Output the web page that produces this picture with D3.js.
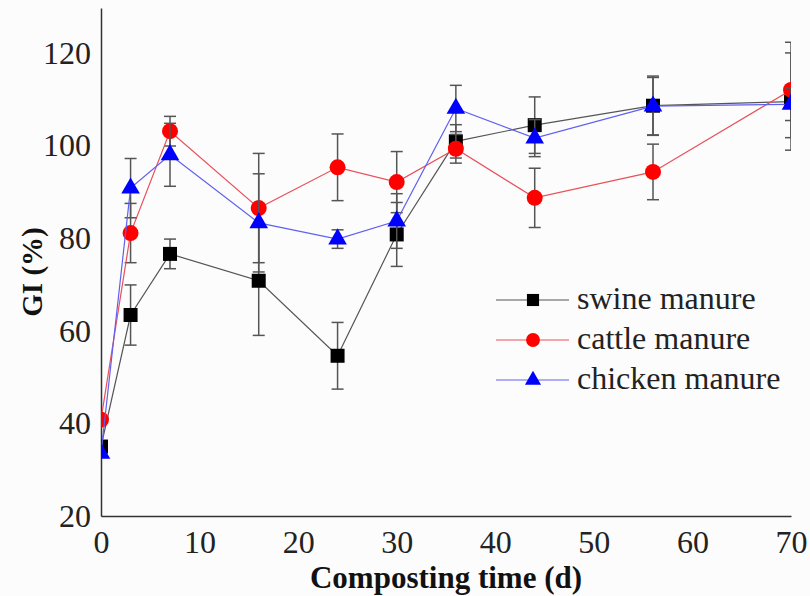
<!DOCTYPE html>
<html>
<head>
<meta charset="utf-8">
<script src="https://cdn.jsdelivr.net/npm/d3@7"></script>
<style>
  body { margin: 0; background: #fcfcfc; }
  #chart-container { width: 810px; height: 596px; }
  text { font-family: "Liberation Serif", "Times New Roman", serif; }
</style>
</head>
<body>
<div id="chart-container"></div>
<script>
// --- Data ---
const days = [0, 3, 7, 16, 24, 30, 36, 44, 56, 70];

const swine = [35.0, 63.4, 76.6, 70.8, 54.6, 80.8, 100.9, 104.4, 108.6, 109.5];
const swineErr = [0, 6.5, 3.2, 11.8, 7.2, 6.9, 3.6, 6.1, 6.4, 10.5];

const cattle = [40.8, 81.1, 103.1, 86.5, 95.3, 92.1, 99.3, 88.7, 94.3, 112.0];
const cattleErr = [0, 6.4, 3.2, 11.8, 7.2, 6.6, 3.1, 6.4, 6.0, 10.3];

const chicken = [33.5, 90.8, 98.0, 83.3, 79.8, 83.7, 108.0, 101.6, 108.5, 108.9];
const chickenErr = [0, 6.4, 6.8, 10.6, 2.0, 5.9, 5.0, 4.0, 6.2, 3.5];

const seriesNames = ["swine manure", "cattle manure", "chicken manure"];
const xTicks = [0, 10, 20, 30, 40, 50, 60, 70];
const yTicks = [20, 40, 60, 80, 100, 120];

// --- Configuration ---
const width = 810;
const height = 596;
const margin = { top: 8, right: 19, bottom: 80, left: 101 };
const serif = "'Liberation Serif', 'Times New Roman', serif";

const series = [
    { name: seriesNames[0], values: swine, err: swineErr, shape: d3.symbolSquare, size: 196, color: "#000", line: "#555" },
    { name: seriesNames[1], values: cattle, err: cattleErr, shape: d3.symbolCircle, size: 201, color: "#ff0000", line: "#e8505a" },
    { name: seriesNames[2], values: chicken, err: chickenErr, shape: d3.symbolTriangle, size: 150, color: "#0000ff", line: "#6060f0" }
];

// --- Scales ---
const xScale = d3.scaleLinear()
    .domain([0, 70])
    .range([margin.left, width - margin.right]);

const yScale = d3.scaleLinear()
    .domain([20, 129.7])
    .range([height - margin.bottom, margin.top]);

// --- Create SVG ---
const svg = d3.select("#chart-container")
    .append("svg")
    .attr("width", width)
    .attr("height", height);

svg.append("defs").append("clipPath")
    .attr("id", "plot-clip")
    .append("rect")
    .attr("x", margin.left)
    .attr("y", 0)
    .attr("width", width - margin.right - margin.left)
    .attr("height", height - margin.bottom);

// --- Axes ---
const xAxis = svg.append("g")
    .attr("transform", `translate(0, ${height - margin.bottom})`)
    .call(d3.axisBottom(xScale).tickValues(xTicks).tickSize(0).tickPadding(14));
xAxis.select(".domain").attr("stroke", "#333").attr("stroke-width", 1.5);
xAxis.selectAll("text")
    .style("font-family", serif)
    .style("font-size", "32px")
    .attr("fill", "#222");

const yAxis = svg.append("g")
    .attr("transform", `translate(${margin.left}, 0)`)
    .call(d3.axisLeft(yScale).tickValues(yTicks).tickSize(0).tickPadding(10));
yAxis.select(".domain").attr("stroke", "#333").attr("stroke-width", 1.5);
yAxis.selectAll("text")
    .style("font-family", serif)
    .style("font-size", "32px")
    .attr("fill", "#222");

// Axis titles
svg.append("text")
    .attr("x", (margin.left + width - margin.right) / 2)
    .attr("y", 588)
    .attr("text-anchor", "middle")
    .style("font-family", serif)
    .style("font-size", "31px")
    .attr("font-weight", "bold")
    .attr("fill", "#111")
    .text("Composting time (d)");

svg.append("text")
    .attr("transform", `translate(42, 272) rotate(-90)`)
    .attr("text-anchor", "middle")
    .style("font-family", serif)
    .style("font-size", "29px")
    .attr("font-weight", "bold")
    .attr("fill", "#111")
    .text("GI (%)");

// --- Plot ---
const plot = svg.append("g").attr("clip-path", "url(#plot-clip)");

const line = d3.line()
    .x((d, i) => xScale(days[i]))
    .y(d => yScale(d));

const capW = 6;

series.forEach(s => {
    const g = plot.append("g");

    // error bars
    const bars = days.map((t, i) => ({ t, v: s.values[i], e: s.err[i] })).filter(d => d.e > 0);
    const eb = g.selectAll(".err").data(bars).enter().append("g")
        .attr("stroke", "#555").attr("stroke-width", 1.5);
    eb.append("line")
        .attr("x1", d => xScale(d.t)).attr("x2", d => xScale(d.t))
        .attr("y1", d => yScale(d.v - d.e)).attr("y2", d => yScale(d.v + d.e));
    eb.append("line")
        .attr("x1", d => xScale(d.t) - capW).attr("x2", d => xScale(d.t) + capW)
        .attr("y1", d => yScale(d.v + d.e)).attr("y2", d => yScale(d.v + d.e));
    eb.append("line")
        .attr("x1", d => xScale(d.t) - capW).attr("x2", d => xScale(d.t) + capW)
        .attr("y1", d => yScale(d.v - d.e)).attr("y2", d => yScale(d.v - d.e));

    g.append("path")
        .datum(s.values)
        .attr("d", line)
        .attr("fill", "none")
        .attr("stroke", s.line)
        .attr("stroke-width", 1.2);

    g.selectAll(".pt").data(s.values).enter().append("path")
        .attr("d", d3.symbol().type(s.shape).size(s.size))
        .attr("transform", (d, i) => `translate(${xScale(days[i])}, ${yScale(d)})`)
        .attr("fill", s.color);
});

// --- Legend ---
const legendG = svg.append("g");
series.forEach((s, i) => {
    const y = 300 + i * 40;
    legendG.append("line")
        .attr("x1", 496).attr("x2", 569)
        .attr("y1", y).attr("y2", y)
        .attr("stroke", s.line).attr("stroke-width", 1.2);
    legendG.append("path")
        .attr("d", d3.symbol().type(s.shape).size(s.size * 0.75))
        .attr("transform", `translate(533, ${y})`)
        .attr("fill", s.color);
    legendG.append("text")
        .attr("x", 577)
        .attr("y", y + 9)
        .style("font-family", serif)
        .style("font-size", "32px")
        .attr("fill", "#222")
        .text(s.name);
});
</script>
</body>
</html>
